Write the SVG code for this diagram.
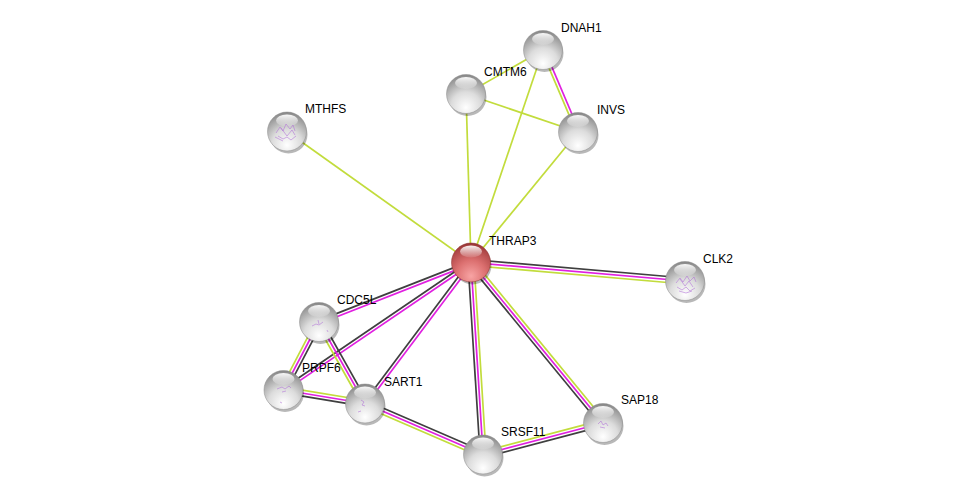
<svg xmlns="http://www.w3.org/2000/svg" width="976" height="499" viewBox="0 0 976 499">
<style>
.k{stroke:#3f3f3f;stroke-width:1.7;fill:none}
.m{stroke:#e020e0;stroke-width:1.7;fill:none}
.y{stroke:#c2dc3c;stroke-width:1.7;fill:none}
.lbl{font-family:"Liberation Sans",Arial,sans-serif;font-size:12px;fill:#000}
.sh{fill:#000;opacity:0.28}
.st{fill:none;stroke:#b070d8;stroke-width:0.7;opacity:0.8}
</style>
<defs>
<radialGradient id="gw" cx="0.5" cy="0.8" r="0.85" fx="0.5" fy="0.85">
<stop offset="0" stop-color="#ffffff"/>
<stop offset="0.45" stop-color="#dcdcdc"/>
<stop offset="0.8" stop-color="#a0a0a0"/>
<stop offset="1" stop-color="#7a7a7a"/>
</radialGradient>
<radialGradient id="gr" cx="0.5" cy="0.8" r="0.85" fx="0.5" fy="0.85">
<stop offset="0" stop-color="#f8a4a4"/>
<stop offset="0.45" stop-color="#dc7070"/>
<stop offset="0.8" stop-color="#b04848"/>
<stop offset="1" stop-color="#8a2c2c"/>
</radialGradient>
<linearGradient id="hl" x1="0" y1="0" x2="0" y2="1">
<stop offset="0" stop-color="#ffffff" stop-opacity="0.95"/>
<stop offset="1" stop-color="#ffffff" stop-opacity="0.1"/>
</linearGradient>
<g id="ball">
<circle cx="1.5" cy="3" r="19" class="sh"/>
<circle r="19.5" fill="url(#gw)" stroke="#8a8a8a" stroke-width="0.5"/>
<ellipse cx="0" cy="-11" rx="11" ry="6" fill="url(#hl)"/>
</g>
<g id="rball">
<circle cx="1.5" cy="3" r="19" class="sh"/>
<circle r="19.5" fill="url(#gr)" stroke="#8a2c2c" stroke-width="0.5"/>
<ellipse cx="0" cy="-11" rx="11" ry="6" fill="url(#hl)"/>
</g>
</defs>
<rect width="976" height="499" fill="#fff"/>
<g id="edges">
<line class="y" x1="471" y1="262.5" x2="287" y2="131.5"/>
<line class="y" x1="471" y1="262.5" x2="466" y2="94"/>
<line class="y" x1="471" y1="262.5" x2="543" y2="50"/>
<line class="y" x1="471" y1="262.5" x2="578" y2="132"/>
<line class="y" x1="466" y1="94" x2="543" y2="50"/>
<line class="y" x1="466" y1="94" x2="578" y2="132"/>
<g transform="translate(543,50) rotate(66.9)"><line class="y" x1="0" y1="1.5" x2="89.2" y2="1.5"/><line class="m" x1="0" y1="-1.5" x2="89.2" y2="-1.5"/></g>
<g transform="translate(471,262.5) rotate(4.94)"><line class="k" x1="0" y1="-3" x2="214.8" y2="-3"/><line class="m" x1="0" y1="0" x2="214.8" y2="0"/><line class="y" x1="0" y1="3" x2="214.8" y2="3"/></g>
<g transform="translate(471,262.5) rotate(86.4)"><line class="k" x1="0" y1="3" x2="192.4" y2="3"/><line class="m" x1="0" y1="0" x2="192.4" y2="0"/><line class="y" x1="0" y1="-3" x2="192.4" y2="-3"/></g>
<g transform="translate(471,262.5) rotate(50.6)"><line class="k" x1="0" y1="3" x2="207.8" y2="3"/><line class="m" x1="0" y1="0" x2="207.8" y2="0"/><line class="y" x1="0" y1="-3" x2="207.8" y2="-3"/></g>
<g transform="translate(471,262.5) rotate(158.6)"><line class="k" x1="0" y1="1.5" x2="163.2" y2="1.5"/><line class="m" x1="0" y1="-1.5" x2="163.2" y2="-1.5"/></g>
<g transform="translate(471,262.5) rotate(145.8)"><line class="k" x1="0" y1="1.5" x2="226.7" y2="1.5"/><line class="m" x1="0" y1="-1.5" x2="226.7" y2="-1.5"/></g>
<g transform="translate(471,262.5) rotate(126.9)"><line class="k" x1="0" y1="1.5" x2="176.4" y2="1.5"/><line class="m" x1="0" y1="-1.5" x2="176.4" y2="-1.5"/></g>
<g transform="translate(319,322) rotate(117.6)"><line class="y" x1="0" y1="3" x2="76.7" y2="3"/><line class="m" x1="0" y1="0" x2="76.7" y2="0"/><line class="k" x1="0" y1="-3" x2="76.7" y2="-3"/></g>
<g transform="translate(319,322) rotate(60.6)"><line class="y" x1="0" y1="3" x2="93.6" y2="3"/><line class="m" x1="0" y1="0" x2="93.6" y2="0"/><line class="k" x1="0" y1="-3" x2="93.6" y2="-3"/></g>
<g transform="translate(283.5,390) rotate(9.4)"><line class="y" x1="0" y1="-3" x2="82.6" y2="-3"/><line class="m" x1="0" y1="0" x2="82.6" y2="0"/><line class="k" x1="0" y1="3" x2="82.6" y2="3"/></g>
<g transform="translate(365,403.5) rotate(23.4)"><line class="k" x1="0" y1="-3" x2="128.5" y2="-3"/><line class="m" x1="0" y1="0" x2="128.5" y2="0"/><line class="y" x1="0" y1="3" x2="128.5" y2="3"/></g>
<g transform="translate(483,454.5) rotate(-14.7)"><line class="y" x1="0" y1="-3" x2="124" y2="-3"/><line class="m" x1="0" y1="0" x2="124" y2="0"/><line class="k" x1="0" y1="3" x2="124" y2="3"/></g>
</g>
<g id="node-DNAH1"><use href="#ball" x="543" y="50"/><text class="lbl" x="561" y="32">DNAH1</text></g>
<g id="node-CMTM6"><use href="#ball" x="466" y="94"/><text class="lbl" x="484" y="76">CMTM6</text></g>
<g id="node-INVS"><use href="#ball" x="578" y="132"/><text class="lbl" x="597" y="114">INVS</text></g>
<g id="node-MTHFS"><use href="#ball" x="287" y="131.5"/><path class="st" d="M276,133 l4,-6 l3,4 l3,-7 l4,5 l3,-4 l2,6 M278,136 l5,3 l4,-2 l4,3 l5,-4 M281,128 l6,8 l5,-6 l3,5 M275,137 l8,4"/><text class="lbl" x="305" y="113">MTHFS</text></g>
<g id="node-CLK2"><use href="#ball" x="685" y="281"/><path class="st" d="M676,283 l4,-5 l3,4 l4,-6 l3,5 l4,-4 l2,5 M677,287 l5,3 l4,-3 l4,4 l5,-3 M680,279 l5,7 l4,-5 l4,6 M679,291 l7,2 l6,-2"/><text class="lbl" x="703" y="263">CLK2</text></g>
<g id="node-CDC5L"><use href="#ball" x="319" y="322"/><path class="st" d="M312,326 l4,-2 l3,1 l4,-3 M318,320 l1,4 M327,330 l1,2"/><text class="lbl" x="337" y="304">CDC5L</text></g>
<g id="node-PRPF6"><use href="#ball" x="283.5" y="390"/><path class="st" d="M277,389 l5,-2 l3,2 l4,-3 l2,2 M282,392 l4,-1 M280,402 l2,1"/><text class="lbl" x="302" y="372">PRPF6</text></g>
<g id="node-SART1"><use href="#ball" x="365" y="403.5"/><path class="st" d="M361,400 l3,2 l-2,3 l3,1 M358,412 l3,-1"/><text class="lbl" x="384" y="386">SART1</text></g>
<g id="node-SRSF11"><use href="#ball" x="483" y="454.5"/><text class="lbl" x="501" y="436">SRSF11</text></g>
<g id="node-SAP18"><use href="#ball" x="603" y="423"/><path class="st" d="M598,424 l3,-3 l2,4 l3,-2 l2,3 M600,427 l5,1"/><text class="lbl" x="621" y="404">SAP18</text></g>
<g id="node-THRAP3"><use href="#rball" x="471" y="262.5"/><text class="lbl" x="489" y="245">THRAP3</text></g>
</svg>
